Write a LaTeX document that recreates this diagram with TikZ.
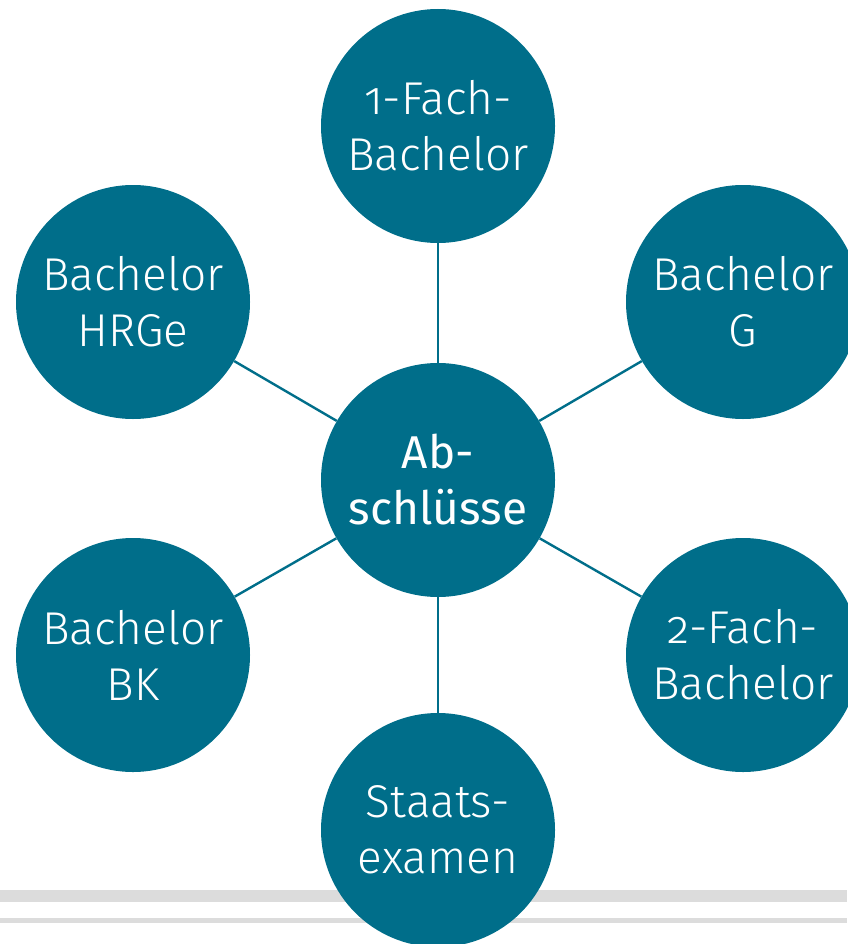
\documentclass[tikz,border=0pt]{standalone}
\usepackage{fontspec}
\setmainfont{Fira Sans}[Numbers=OldStyle, UprightFont={* Light}]
\newfontfamily\centerfont{Fira Sans}[Numbers=OldStyle]
\usetikzlibrary{backgrounds}
\definecolor{tealc}{HTML}{006E8A}
\definecolor{bandc}{HTML}{DCDCDC}
\tikzset{
  bubble/.style={circle, fill=tealc, draw=none, minimum size=234pt, inner sep=0pt,
    text=white, align=center, font=\fontsize{46}{56}\selectfont},
  hub/.style={bubble, font=\centerfont\fontsize{46}{56}\selectfont},
  spoke/.style={draw=tealc, line width=2.4pt},
  band/.style={fill=bandc, draw=none}
}
\begin{document}
\begin{tikzpicture}[x=1pt,y=-1pt]
\useasboundingbox (0,0) rectangle (847,944);
\node[hub] (c)  at (438,480) {Ab-\\schlüsse};
\node[bubble] (t)  at (438,126) {1-Fach-\\Bachelor};
\node[bubble] (ul) at (133,302) {Bachelor\\HRGe};
\node[bubble] (ur) at (743,302) {Bachelor\\G};
\node[bubble] (ll) at (133,655) {Bachelor\\BK};
\node[bubble] (lr) at (743,655) {2-Fach-\\Bachelor};
\node[bubble] (b)  at (438,830) {Staats-\\examen};
\begin{scope}[on background layer]
\fill[band] (0,890) rectangle (847,902);
\fill[band] (0,918) rectangle (847,923);
\foreach \n in {t,ul,ur,ll,lr,b} \draw[spoke] (c) -- (\n);
\end{scope}
\end{tikzpicture}
\end{document}
